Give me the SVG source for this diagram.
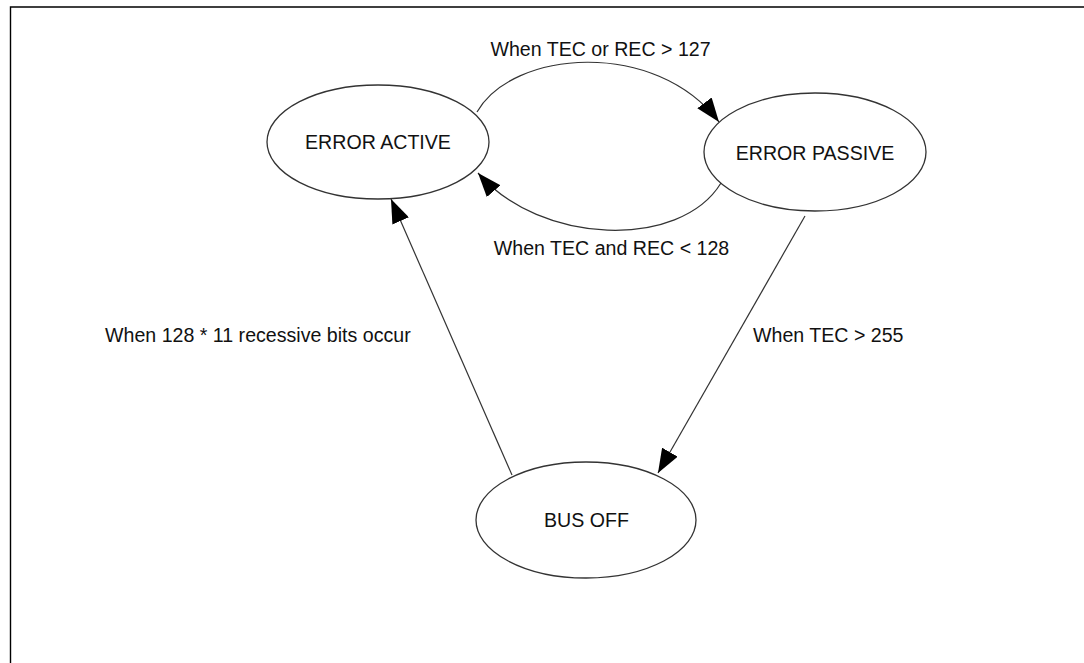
<svg xmlns="http://www.w3.org/2000/svg" width="1084" height="663" viewBox="0 0 1084 663">
<style>
.node ellipse{fill:#fff;stroke:#333;stroke-width:1.3}
.node text,.label{font-family:"Liberation Sans",Arial,sans-serif;font-size:19.6px;fill:#111}
.node text{text-anchor:middle}
.edge{fill:none;stroke:#333;stroke-width:1.2;marker-end:url(#arrow)}
.frame{stroke:#000;stroke-width:1.4;fill:none}
</style>
<defs>
<marker id="arrow" markerUnits="userSpaceOnUse" markerWidth="24" markerHeight="18" refX="24" refY="9" orient="auto">
<path d="M0,0 L24,9 L0,18 z" fill="#000"/>
</marker>
</defs>
<rect width="1084" height="663" fill="#fff"/>
<path class="frame" d="M10.5,663 V7 H1084"/>
<g id="connectors">
<path class="edge" d="M477,112 C512,50 655,38 719,122"/>
<path class="edge" d="M721,183 C680,250 540,245 478,173"/>
<path class="edge" d="M512,475 L391,199"/>
<path class="edge" d="M805,216 L658,473"/>
<text class="label" x="600.5" y="56" text-anchor="middle">When TEC or REC &gt; 127</text>
<text class="label" x="611.5" y="255" text-anchor="middle">When TEC and REC &lt; 128</text>
<text class="label" x="105" y="342">When 128 * 11 recessive bits occur</text>
<text class="label" x="753" y="342">When TEC &gt; 255</text>
</g>
<g id="error-active" class="node">
<ellipse cx="378" cy="142" rx="111" ry="57"/>
<text x="378" y="149">ERROR ACTIVE</text>
</g>
<g id="error-passive" class="node">
<ellipse cx="815" cy="152" rx="111" ry="59"/>
<text x="815" y="160">ERROR PASSIVE</text>
</g>
<g id="bus-off" class="node">
<ellipse cx="586" cy="520" rx="110" ry="58"/>
<text x="586.5" y="527">BUS OFF</text>
</g>
</svg>
